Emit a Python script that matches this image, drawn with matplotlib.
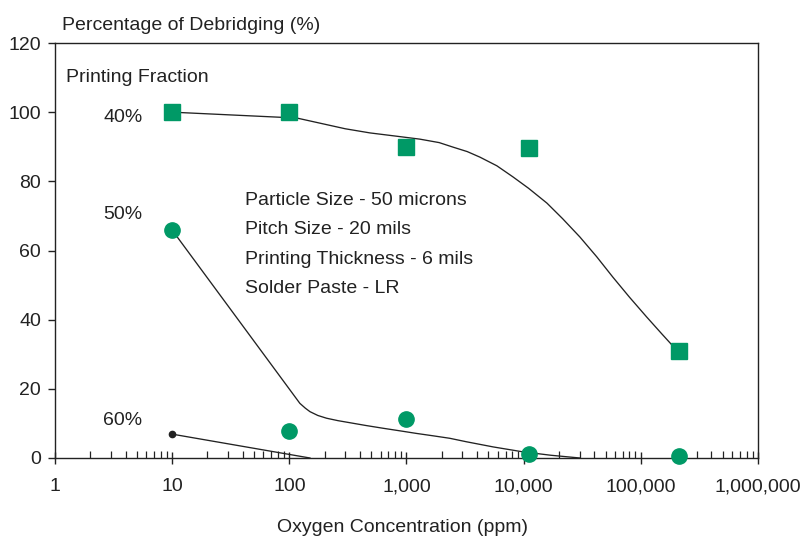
import matplotlib
matplotlib.use("Agg")
import matplotlib.pyplot as plt
from matplotlib.ticker import FixedLocator, LogLocator, NullFormatter

plt.rcParams['font.family'] = ['Liberation Sans', 'DejaVu Sans']

# ---- data ----
x_ticks = [1, 10, 100, 1000, 10000, 100000, 1000000]
x_tick_labels = ["1", "10", "100", "1,000", "10,000", "100,000", "1,000,000"]
y_ticks = [0, 20, 40, 60, 80, 100, 120]

# measured points
x40 = [10, 100, 1000, 11000, 212000]
y40 = [100, 100, 90, 89.7, 30.9]
x50 = [10, 100, 1000, 11000, 212000]
y50 = [65.9, 7.9, 11.3, 1.2, 0.6]
x60 = [10]
y60 = [6.9]

# fitted curves (as drawn in the reference)
fit40_x = [10, 116, 300, 488, 800, 1300, 1900, 2490, 3300, 4230, 5900, 8090, 11000,
           15800, 21500, 30200, 42000, 57700, 80000, 112000, 150000, 184000, 212000]
fit40_y = [100, 98.3, 95.2, 94.0, 93.1, 92.2, 91.2, 89.9, 88.6, 87.0, 84.5, 81.3, 78.0,
           73.7, 69.2, 63.9, 58.2, 52.3, 46.5, 40.8, 36.0, 32.7, 30.9]
fit50_x = [10, 123, 137, 150, 175, 208, 260, 329, 450, 631, 900, 1220, 1700, 2340, 3240,
           5500, 9770, 17000, 30200]
fit50_y = [65.9, 15.8, 14.4, 13.4, 12.3, 11.5, 10.8, 10.2, 9.4, 8.6, 7.8, 7.1, 6.4, 5.7,
           4.7, 3.2, 1.8, 0.8, 0.0]
fit60_x = [10, 150]
fit60_y = [6.9, 0.0]

notes = ["Particle Size - 50 microns", "Pitch Size - 20 mils",
         "Printing Thickness - 6 mils", "Solder Paste - LR"]
fraction_labels = ["40%", "50%", "60%"]

GREEN = "#009966"
LINE = "#222222"
FS = 14

W, H = 812, 541
fig = plt.figure(figsize=(W / 100, H / 100), dpi=100)
L, R, T, B = 55, 758, 43, 458
ax = fig.add_axes([L / W, 1 - B / H, (R - L) / W, (B - T) / H])

ax.plot(fit40_x, fit40_y, color=LINE, lw=0.95, zorder=2)
ax.plot(fit50_x, fit50_y, color=LINE, lw=0.95, zorder=2)
ax.plot(fit60_x, fit60_y, color=LINE, lw=0.95, zorder=2)
ax.plot(x40, y40, ls='none', marker='s', ms=11, color=GREEN, mec=GREEN, zorder=3, clip_on=False)
ax.plot(x50, y50, ls='none', marker='o', ms=11, color=GREEN, mec=GREEN, zorder=3, clip_on=False)
ax.plot(x60, y60, ls='none', marker='o', ms=4.5, color=LINE, zorder=3)

ax.set_xscale('log')
ax.set_xlim(1, 1000000)
ax.set_ylim(0, 120)
ax.xaxis.set_major_locator(FixedLocator(x_ticks))
ax.set_xticklabels(x_tick_labels)
ax.xaxis.set_minor_locator(LogLocator(base=10, subs=range(2, 10)))
ax.xaxis.set_minor_formatter(NullFormatter())
ax.set_yticks(y_ticks)
ax.set_yticklabels([str(v) for v in y_ticks])

ax.tick_params(axis='x', which='major', direction='inout', length=9, width=1,
               color=LINE, labelsize=FS, pad=10, labelcolor="#222222")
ax.tick_params(axis='x', which='minor', direction='in', length=5, width=0.9, color=LINE)
ax.tick_params(axis='y', which='major', direction='out', length=5, width=1,
               color=LINE, labelsize=FS, pad=5, labelcolor="#222222")
for s in ax.spines.values():
    s.set_linewidth(1.0)
    s.set_color(LINE)

def fx(px):
    return px / W

def fy(py):
    return 1 - py / H

tc = "#222222"
fig.text(fx(62), fy(30), "Percentage of Debridging (%)", fontsize=FS, color=tc, va='baseline')
fig.text(fx(66), fy(82), "Printing Fraction", fontsize=FS, color=tc, va='baseline')
for lab, py in zip(fraction_labels, [122, 219, 425]):
    fig.text(fx(103), fy(py), lab, fontsize=FS, color=tc, va='baseline')
for i, line in enumerate(notes):
    fig.text(fx(245), fy(205 + 29.3 * i), line, fontsize=FS, color=tc, va='baseline')
fig.text(fx(403), fy(532), "Oxygen Concentration (ppm)", fontsize=FS, color=tc,
         va='baseline', ha='center')

fig.savefig("out.png", dpi=100)
